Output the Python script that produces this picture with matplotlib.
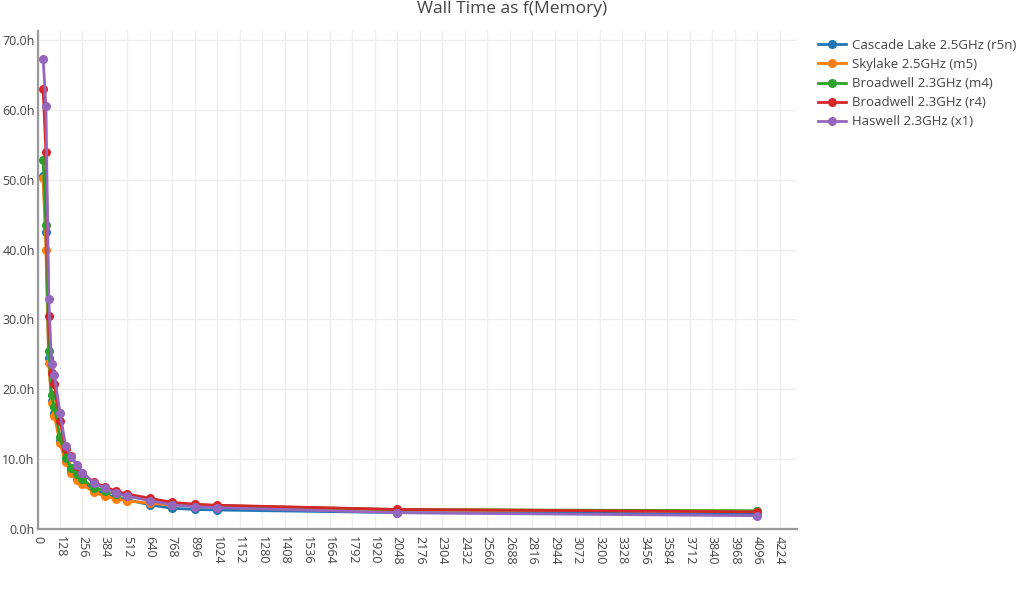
import matplotlib
matplotlib.use("Agg")
import matplotlib.pyplot as plt
from matplotlib.ticker import FuncFormatter, MultipleLocator

plt.rcParams['font.family'] = ['Open Sans', 'DejaVu Sans']

memory_gb = [32, 48, 64, 80, 96, 128, 160, 192, 224, 256, 320, 384, 448, 512,
             640, 768, 896, 1024, 2048, 4096]

series_names = ["Cascade Lake 2.5GHz (r5n)", "Skylake 2.5GHz (m5)",
                "Broadwell 2.3GHz (m4)", "Broadwell 2.3GHz (r4)",
                "Haswell 2.3GHz (x1)"]

cascade_lake = [50.6, 42.5, 24.5, 18.3, 16.6, 12.6, 9.8, 8.3, 7.4, 6.7, 5.6, 5.0,
                4.5, 4.2, 3.45, 2.96, 2.8, 2.72, 2.35, 2.15]
skylake = [50.2, 40.0, 23.8, 18.0, 16.2, 12.3, 9.6, 8.0, 7.0, 6.4, 5.25, 4.7,
           4.3, 4.0, 3.7, 3.4, 3.3, 3.2, 2.75, 2.55]
broadwell_m4 = [52.9, 43.5, 25.5, 19.2, 17.4, 13.2, 10.1, 8.7, 7.9, 7.1, 5.9, 5.5,
                5.0, 4.7, 4.2, 3.7, 3.45, 3.35, 2.78, 2.6]
broadwell_r4 = [63.0, 54.0, 30.5, 22.3, 20.7, 15.5, 11.4, 10.5, 9.0, 8.0, 6.7, 6.05,
                5.4, 5.0, 4.4, 3.8, 3.55, 3.4, 2.8, 2.45]
haswell = [67.3, 60.5, 33.0, 23.6, 22.1, 16.6, 11.9, 10.3, 9.2, 8.05, 6.6, 5.8,
           5.1, 4.7, 4.05, 3.45, 3.2, 3.05, 2.33, 1.9]

all_series = [cascade_lake, skylake, broadwell_m4, broadwell_r4, haswell]
colors = ["#1f77b4", "#ff7f0e", "#2ca02c", "#d62728", "#9467bd"]

fig = plt.figure(figsize=(10.24, 6.0), dpi=100)
ax = fig.add_axes([37.5 / 1024, 1 - 529 / 600, (797 - 37.5) / 1024, (529 - 31) / 600])

for name, vals, c in zip(series_names, all_series, colors):
    ax.plot(memory_gb, vals, color=c, lw=2, marker='o', ms=5.5, label=name,
            solid_joinstyle='round', clip_on=False)

ax.set_xlim(0, 4323)
ax.set_ylim(0, 71.3)
ax.xaxis.set_major_locator(MultipleLocator(128))
ax.yaxis.set_major_locator(MultipleLocator(10))
ax.yaxis.set_major_formatter(FuncFormatter(lambda v, p: f"{v:.1f}h"))
ax.grid(True, color="#eeeeee", lw=1)
ax.set_axisbelow(True)

for s in ['top', 'right']:
    ax.spines[s].set_visible(False)
for s in ['left', 'bottom']:
    ax.spines[s].set_color('#9a9a9a')
    ax.spines[s].set_linewidth(1.6)

ax.tick_params(axis='both', length=0, colors='#444444', labelsize=9)
ax.tick_params(axis='y', pad=2)
ax.tick_params(axis='x', pad=5)
for lbl in ax.get_xticklabels():
    lbl.set_rotation(-90)
    lbl.set_va('top')
    lbl.set_ha('center')

fig.text(0.5, 1 - 9 / 600, "Wall Time as f(Memory)", ha='center', va='center',
         fontsize=12.5, color='#444444')

leg = fig.legend(loc='upper left', bbox_to_anchor=(818 / 1024, 1 - 39 / 600),
                 frameon=False, fontsize=9.5, handlelength=2.1, handletextpad=0.45,
                 labelspacing=0.46, borderpad=0, borderaxespad=0)
for t in leg.get_texts():
    t.set_color('#444444')

fig.savefig("out.png", dpi=100)
